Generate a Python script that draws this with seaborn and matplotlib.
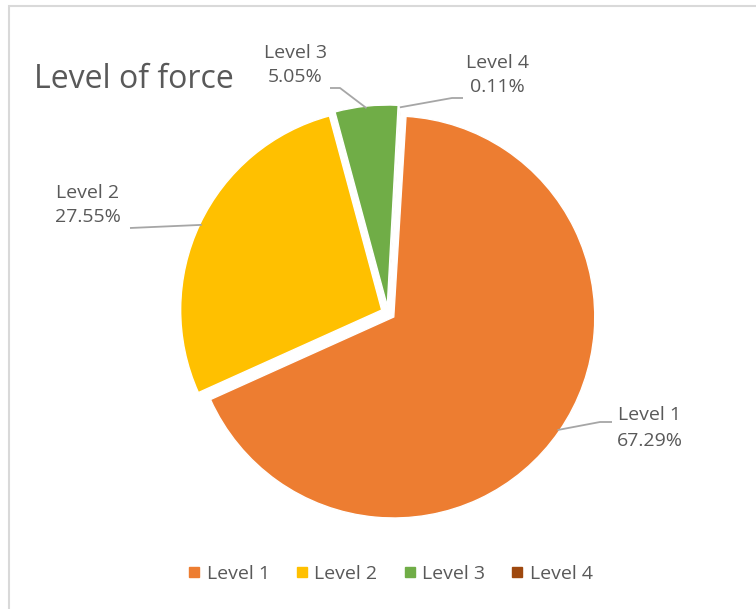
import numpy as np
import pandas as pd
import seaborn as sns
import matplotlib
matplotlib.use("Agg")
import matplotlib.pyplot as plt
from matplotlib.lines import Line2D
from matplotlib.patches import Rectangle

# ---- data ----
categories = ["Level 1", "Level 2", "Level 3", "Level 4"]
shares = [67.29, 27.55, 5.05, 0.11]
colors = ["#ED7D31", "#FFC000", "#70AD47", "#9E480E"]
title = "Level of force"

sns.set_theme(style="white")
plt.rcParams["font.family"] = ["Open Sans", "DejaVu Sans"]
TXT = "#595959"
LINE = "#A6A6A6"

df = pd.DataFrame({"cat": categories, "share": shares})

W, H = 756, 609
fig = plt.figure(figsize=(W / 100, H / 100), dpi=100)
fig.patch.set_facecolor("white")

# pie axes: 200 px per unit
cx, cy = 388, 313
half = 240
ax = fig.add_axes([(cx - half) / W, (H - cy - half) / H, 2 * half / W, 2 * half / H])

explode = [0.035] * len(df)
wedges, _ = ax.pie(df["share"], colors=colors, startangle=86.5, counterclock=False,
                   explode=explode, radius=1.005,
                   wedgeprops=dict(edgecolor="white", linewidth=1.0))
ax.set_xlim(-1.2, 1.2)
ax.set_ylim(-1.2, 1.2)
ax.set_aspect("equal")
ax.axis("off")

def px(x, y):
    return ((x - cx) / 200.0, (cy - y) / 200.0)

# label layout (text centre, leader-line path ending at the wedge)
layout = {
    "Level 1": dict(text=px(650, 428), path=[px(612, 422), px(600, 422)]),
    "Level 2": dict(text=px(88, 205), path=[px(130, 228)]),
    "Level 3": dict(text=px(295, 65), path=[px(330, 88), px(340, 88)]),
    "Level 4": dict(text=px(497, 75), path=[px(463, 98), px(452, 98)]),
}

for w, (cat, val) in zip(wedges, zip(df["cat"], df["share"])):
    th = np.deg2rad((w.theta1 + w.theta2) / 2)
    ox, oy = w.center
    r = w.r * 0.99
    anchor = (ox + r * np.cos(th), oy + r * np.sin(th))
    L = layout[cat]
    pts = L["path"] + [anchor]
    ax.plot([p[0] for p in pts], [p[1] for p in pts], color=LINE, lw=1.3,
            solid_capstyle="butt", zorder=3, clip_on=False)
    ax.text(L["text"][0], L["text"][1], f"{cat}\n{val:.2f}%", ha="center", va="center",
            fontsize=14, color=TXT, linespacing=1.5, clip_on=False)

# title
fig.text(34 / W, 1 - 79 / H, title, fontsize=23, color=TXT, ha="left", va="center")

# legend
handles = [Line2D([0], [0], marker="s", linestyle="none", markersize=6.5,
                  markerfacecolor=c, markeredgecolor=c) for c in colors]
fig.legend(handles, categories, loc="center", bbox_to_anchor=(390 / W, 1 - 574 / H),
           ncol=4, frameon=False, fontsize=14, labelcolor=TXT, handletextpad=0.3,
           columnspacing=1.3, handlelength=0.7)

# chart border (only left and top visible)
fig.add_artist(Rectangle((8.5 / W, -0.1), 1.2, 1 - 5.5 / H + 0.1, transform=fig.transFigure,
                         fill=False, edgecolor="#D9D9D9", linewidth=1.5))

fig.savefig("out.png", dpi=100, facecolor="white")
